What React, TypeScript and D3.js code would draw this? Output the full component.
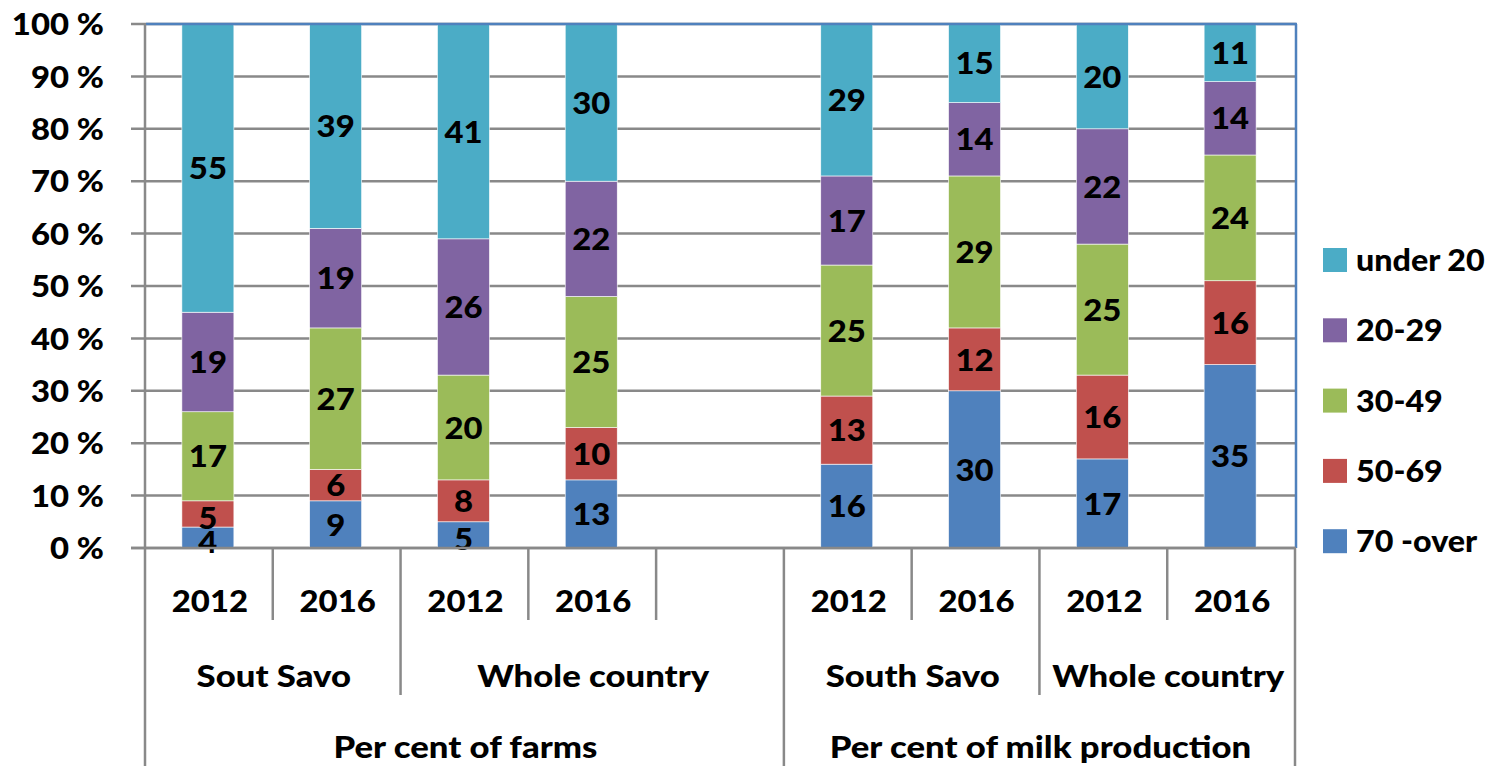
import React from "react";
import * as d3 from "d3";

const years = ["2012", "2016", "2012", "2016", "", "2012", "2016", "2012", "2016"];
const groups = [
  { label: "Sout Savo", start: 0, end: 2 },
  { label: "Whole country", start: 2, end: 5 },
  { label: "South Savo", start: 5, end: 7 },
  { label: "Whole country", start: 7, end: 9 },
];
const sections = [
  { label: "Per cent of farms", start: 0, end: 5 },
  { label: "Per cent of milk production", start: 5, end: 9 },
];
const seriesKeys = ["70 -over", "50-69", "30-49", "20-29", "under 20"];
const over70 = [4, 9, 5, 13, 0, 16, 30, 17, 35];
const age50_69 = [5, 6, 8, 10, 0, 13, 12, 16, 16];
const age30_49 = [17, 27, 20, 25, 0, 25, 29, 25, 24];
const age20_29 = [19, 19, 26, 22, 0, 17, 14, 22, 14];
const under20 = [55, 39, 41, 30, 0, 29, 15, 20, 11];
const colors = ["#4F81BD", "#C0504D", "#9BBB59", "#8064A2", "#4BACC6"];
const yTicks = [0, 10, 20, 30, 40, 50, 60, 70, 80, 90, 100];

const W = 1499, H = 766;
const L = 146, R = 1296, T = 24, B = 548;
const FONT = "Lato, 'Open Sans', sans-serif";
const FS = 31;

function STxt({ x, y, children, anchor = "middle", sx = 1.06 }: any) {
  return (
    <text
      transform={`translate(${x},${y}) scale(${sx},1)`}
      textAnchor={anchor}
      dy="0.36em"
      fontFamily={FONT}
      fontWeight={900}
      fontSize={FS}
      fill="#000"
    >
      {children}
    </text>
  );
}

export default function App() {
  const x = d3.scaleBand<number>().domain(d3.range(years.length)).range([L, R]).paddingInner(0).paddingOuter(0);
  const slot = x.bandwidth();
  const barW = 52;
  const y = d3.scaleLinear().domain([0, 100]).range([B, T]);

  const rows = years.map((yr, i) => ({
    i,
    "70 -over": over70[i],
    "50-69": age50_69[i],
    "30-49": age30_49[i],
    "20-29": age20_29[i],
    "under 20": under20[i],
  }));
  const stack = d3.stack<any>().keys(seriesKeys)(rows);
  const grid = "#898989";
  const WSX = 1.12;

  const edge = (k: number) => L + k * slot;

  return (
    <svg width={W} height={H} style={{ position: "absolute", left: 0, top: 0, background: "#fff" }}>
      {yTicks.map((t) => (
        <line key={t} x1={131} x2={R} y1={y(t)} y2={y(t)} stroke={grid} strokeWidth={2.5} />
      ))}
      {stack.map((s, si) =>
        s.map((d, i) => {
          if (years[i] === "") return null;
          const cx = x(i)! + slot / 2 - 2;
          const y0 = y(d[0]);
          const y1 = y(d[1]);
          return (
            <rect key={`${si}-${i}`} x={cx - barW / 2} y={y1} width={barW} height={y0 - y1} fill={colors[si]} stroke="#fff" strokeWidth={0.6} />
          );
        })
      )}
      {stack.map((s, si) =>
        s.map((d, i) => {
          if (years[i] === "") return null;
          const cx = x(i)! + slot / 2 - 2;
          const v = d[1] - d[0];
          return (
            <STxt key={`l${si}-${i}`} x={cx} y={(y(d[0]) + y(d[1])) / 2 + (v < 6 ? 4 : 0)}>
              {v}
            </STxt>
          );
        })
      )}
      <line x1={L} x2={R + 1} y1={T} y2={T} stroke="#4F81BD" strokeWidth={2.5} />
      <line x1={R} x2={R} y1={T} y2={B} stroke="#4F81BD" strokeWidth={2.5} />
      <line x1={L - 1} x2={L - 1} y1={T} y2={H} stroke={grid} strokeWidth={2.5} />
      <line x1={131} x2={R} y1={B} y2={B} stroke={grid} strokeWidth={2.5} />
      {d3.range(1, years.length + 1).map((k) => {
        const isSection = sections.some((s) => s.end === k);
        const isGroup = groups.some((g) => g.end === k);
        const y2 = isSection ? H : isGroup ? 695 : 620;
        return <line key={k} x1={edge(k) - 1} x2={edge(k) - 1} y1={B} y2={y2} stroke={grid} strokeWidth={2.5} />;
      })}
      {yTicks.map((t) => (
        <STxt key={t} x={104} y={y(t)} anchor="end">{`${t} %`}</STxt>
      ))}
      {years.map((yr, i) => (yr ? <STxt key={i} x={x(i)! + slot / 2} y={601}>{yr}</STxt> : null))}
      {groups.map((g, i) => (
        <STxt key={i} x={(edge(g.start) + edge(g.end)) / 2} y={676} sx={WSX}>{g.label}</STxt>
      ))}
      {sections.map((s, i) => (
        <STxt key={i} x={(edge(s.start) + edge(s.end)) / 2} y={747} sx={WSX}>{s.label}</STxt>
      ))}
      {[...seriesKeys].reverse().map((k, j) => {
        const cy = 260 + j * 70.3;
        const ci = seriesKeys.length - 1 - j;
        return (
          <g key={k}>
            <rect x={1323} y={cy - 12} width={24} height={24} fill={colors[ci]} />
            <STxt x={1356} y={cy} anchor="start" sx={1.04}>{k}</STxt>
          </g>
        );
      })}
    </svg>
  );
}
